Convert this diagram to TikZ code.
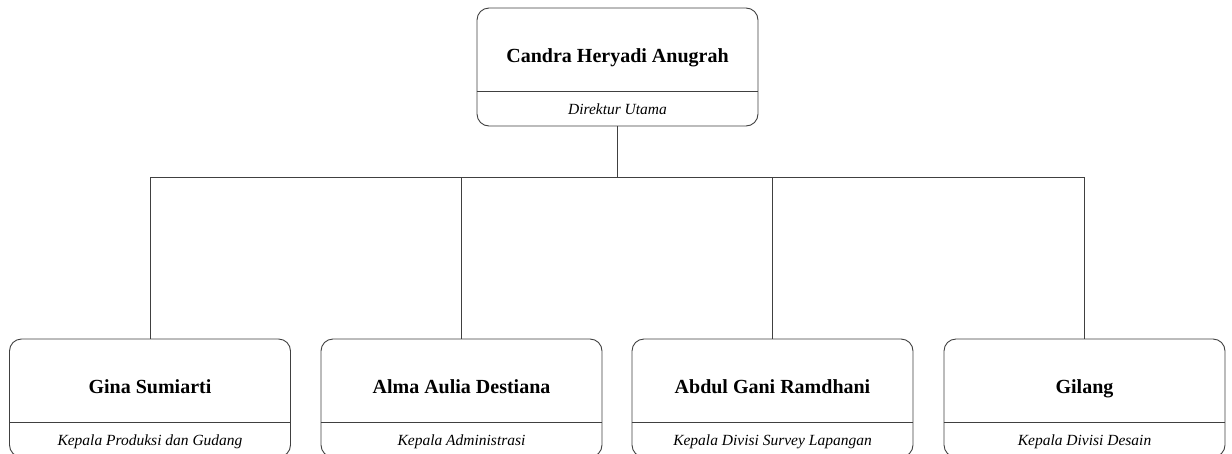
\documentclass[tikz,border=0pt]{standalone}
\usepackage{fontspec}
\setmainfont{Liberation Serif}
\usetikzlibrary{calc, positioning}
\tikzset{
    personBox/.style={rectangle, rounded corners=12pt, draw=black!75, line width=0.9pt, fill=white, minimum width=281pt, minimum height=118pt, inner sep=0pt},
    divLine/.style={draw=black!75, line width=0.9pt},
    nameText/.style={font=\fontsize{20}{22}\selectfont\bfseries, inner sep=0pt, anchor=base},
    roleText/.style={font=\fontsize{15.5}{17}\selectfont\itshape, inner sep=0pt, anchor=base},
    orgEdge/.style={draw=black!75, line width=0.9pt},
}
\newcommand{\drawPerson}[4]{
    % kotak, garis pembagi, nama dan jabatan
    \node[personBox] (#1) at (#2) {};
    \draw[divLine] ($(#1.north west)+(0,-84)$) -- ($(#1.north east)+(0,-84)$);
    \node[nameText] (#1name) at ($(#1.north)+(0,-55)$) {#3};
    \node[roleText] (#1role) at ($(#1.south)+(0,11.5)$) {#4};
}

\begin{document}
\begin{tikzpicture}[x=1pt, y=1pt]
        \useasboundingbox (0,0) rectangle (1232,-453);

        \drawPerson{ceo}{617.5,-67}{Candra Heryadi Anugrah}{Direktur Utama}
        \drawPerson{gina}{150,-398}{Gina Sumiarti}{Kepala Produksi dan Gudang}
        \drawPerson{alma}{461.5,-398}{Alma Aulia Destiana}{Kepala Administrasi}
        \drawPerson{abdul}{772.5,-398}{Abdul Gani Ramdhani}{Kepala Divisi Survey Lapangan}
        \drawPerson{gilang}{1084.5,-398}{Gilang}{Kepala Divisi Desain}

        \coordinate (bus) at ($(ceo.south)+(0,-51)$);
        \draw[orgEdge] (ceo.south) -- (bus);
        \foreach \c in {gina, alma, abdul, gilang}
            \draw[orgEdge] (\c.north) |- (bus);

    \end{tikzpicture}
\end{document}
